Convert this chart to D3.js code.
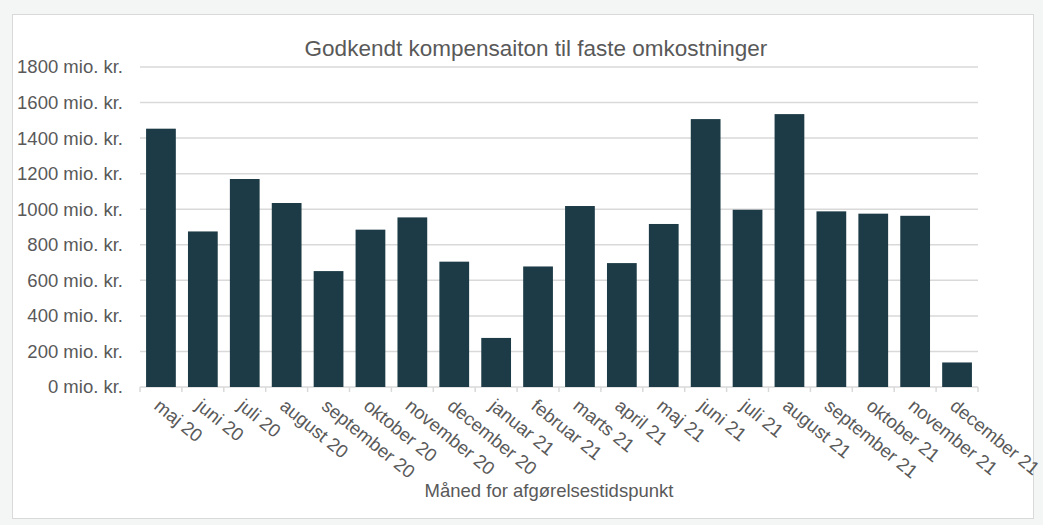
<!DOCTYPE html>
<html>
<head>
<meta charset="utf-8">
<script src="https://cdn.jsdelivr.net/npm/d3@7"></script>
<style>
  body { margin: 0; background: #f4f5f5; }
  svg { display: block; }
  text { font-family: "Liberation Sans", Arial, sans-serif; fill: #595959; }
</style>
</head>
<body>
<div id="chart"></div>
<script>
// Data
const months = ["maj 20", "juni 20", "juli 20", "august 20", "september 20", "oktober 20",
  "november 20", "december 20", "januar 21", "februar 21", "marts 21", "april 21", "maj 21",
  "juni 21", "juli 21", "august 21", "september 21", "oktober 21", "november 21", "december 21"];
const amounts = [1453, 875, 1170, 1035, 652, 885, 954, 705, 276, 678, 1018, 697, 917,
  1507, 997, 1535, 988, 975, 963, 138];
const yTicks = [0, 200, 400, 600, 800, 1000, 1200, 1400, 1600, 1800];

const width = 1043, height = 525;
const margin = { top: 67, right: 65, bottom: 138, left: 140 };

const svg = d3.select("#chart").append("svg")
  .attr("width", width)
  .attr("height", height);

// chart area frame
svg.append("rect")
  .attr("x", 12.5).attr("y", 14.5)
  .attr("width", 1021).attr("height", 504)
  .attr("fill", "#fff")
  .attr("stroke", "#d9d9d9");

const x = d3.scaleBand()
  .domain(months)
  .range([margin.left, width - margin.right])
  .paddingInner(0.29)
  .paddingOuter(0.145);

const y = d3.scaleLinear()
  .domain([0, 1800])
  .range([height - margin.bottom, margin.top]);

// gridlines
svg.append("g")
  .selectAll("line")
  .data(yTicks)
  .join("line")
  .attr("x1", margin.left)
  .attr("x2", width - margin.right)
  .attr("y1", d => y(d))
  .attr("y2", d => y(d))
  .attr("stroke", "#d9d9d9")
  .attr("stroke-width", 1.5);

// y labels
svg.append("g")
  .selectAll("text")
  .data(yTicks)
  .join("text")
  .attr("x", 123)
  .attr("y", d => y(d))
  .attr("dy", "0.35em")
  .attr("text-anchor", "end")
  .attr("font-size", "18.5px")
  .text(d => d + " mio. kr.");

// bars
svg.append("g")
  .selectAll("rect")
  .data(amounts)
  .join("rect")
  .attr("x", (d, i) => x(months[i]))
  .attr("y", d => y(d))
  .attr("width", x.bandwidth())
  .attr("height", d => y(0) - y(d))
  .attr("fill", "#1c3b46");

// x ticks at category boundaries
const step = x.step();
const bounds = d3.range(months.length + 1).map(i => margin.left + i * step);
svg.append("g")
  .selectAll("line")
  .data(bounds)
  .join("line")
  .attr("x1", d => d).attr("x2", d => d)
  .attr("y1", y(0)).attr("y2", y(0) + 5)
  .attr("stroke", "#d9d9d9")
  .attr("stroke-width", 1.5);

// rotated month labels
svg.append("g")
  .selectAll("text")
  .data(months)
  .join("text")
  .attr("transform", d => `translate(${x(d) + x.bandwidth() / 2 - 8},${y(0) + 21}) rotate(39)`)
  .attr("font-size", "18.5px")
  .text(d => d);

// title
svg.append("text")
  .attr("x", 536)
  .attr("y", 56)
  .attr("text-anchor", "middle")
  .attr("font-size", "22.5px")
  .text("Godkendt kompensaiton til faste omkostninger");

// x axis title
svg.append("text")
  .attr("x", 549)
  .attr("y", 497)
  .attr("text-anchor", "middle")
  .attr("font-size", "18.5px")
  .text("Måned for afgørelsestidspunkt");
</script>
</body>
</html>
